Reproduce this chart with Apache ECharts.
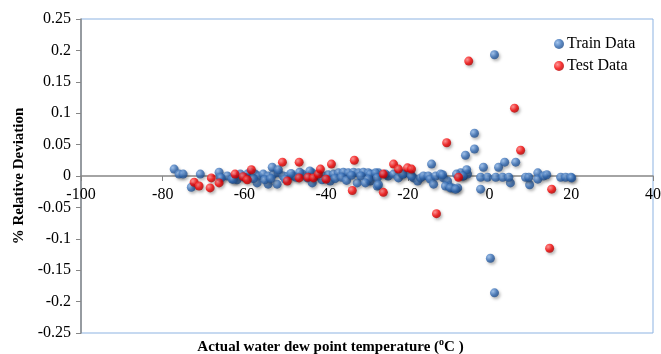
<!DOCTYPE html>
<html>
<head>
<meta charset="utf-8">
<script src="https://cdn.jsdelivr.net/npm/echarts@6/dist/echarts.min.js"></script>
<style>
html,body{margin:0;padding:0;background:#fff;}
#chart{width:661px;height:354px;}
</style>
</head>
<body>
<div id="chart"></div>
<script>
// Train data (blue)
const trainX = [-77.2,-76.0,-75.0,-73.0,-70.8,-66.2,-65.9,-64.2,-63.0,-61.8,-61.0,-58.6,-59.3,-57.4,-56.6,-55.4,-54.2,-52.9,-51.7,-50.5,-49.3,-48.0,-56.9,-54.2,-52.0,-53.2,-51.7,-47.3,-45.8,-44.6,-43.4,-42.2,-43.4,-40.7,-39.5,-38.2,-37.0,-35.8,-34.6,-33.3,-32.1,-30.9,-29.7,-28.4,-27.2,-24.8,-32.4,-29.2,-27.5,
 -60.0,-57.8,-55.0,-53.5,-50.0,-48.6,-46.5,-44.0,-41.0,-39.0,-37.8,-36.2,-35.0,-33.8,-31.5,
 -29.2,-27.9,-27.5,-29.7,-30.4,-27.2,-25.5,-23.5,-22.3,-21.1,-19.4,-18.6,-17.6,-16.9,-16.2,-15.0,-14.5,-13.7,-13.2,-12.0,-11.3,-10.3,-10.0,-9.1,-7.8,-7.1,-6.4,-5.4,-14.2,-5.9,
 1.2,-3.7,-3.7,-1.5,2.2,3.7,6.4,-5.6,-2.2,0.2,1.2,5.1,9.8,-2.2,-0.5,1.5,3.2,4.7,8.8,9.6,11.8,11.8,13.2,14.0,17.4,18.6,19.9,20.1,-8.1,-6.6,-10.8,-9.6,-8.3,-11.5,-21.3,-19.1,-65.7,-62.7];
const trainY = [0.011,0.003,0.003,-0.018,0.003,0.006,-0.002,0,-0.005,-0.006,0.003,0.006,0.003,0.003,0,0.003,0,0.003,0.005,0,0,0,-0.011,-0.013,-0.013,0.014,0.010,-0.002,0.003,-0.003,0.005,0,-0.011,0,0.002,0.003,0.005,0.006,0.005,0.006,0.005,0.006,0.005,0.003,0.005,0,-0.011,-0.008,-0.016,
 -0.002,-0.004,-0.006,-0.004,-0.005,0.004,0.006,0.008,-0.006,-0.008,-0.004,-0.002,-0.007,0.001,0,
 0.003,0.005,-0.003,-0.005,-0.011,-0.014,0.003,0.003,-0.003,0.003,0.003,-0.003,-0.008,-0.003,0,0,-0.005,-0.013,0,0.003,-0.003,-0.008,-0.016,-0.019,-0.019,0.005,0,0.003,0.019,0.033,
 0.193,0.068,0.043,0.014,0.014,0.022,0.022,0.010,-0.021,-0.131,-0.186,-0.011,-0.014,-0.002,-0.002,-0.002,-0.002,-0.002,-0.002,-0.002,0.005,-0.005,0,0.002,-0.002,-0.002,-0.002,-0.003,0.003,0,-0.016,-0.019,-0.021,0.002,0.003,0,-0.003,-0.005];
// Test data (red)
const testX = [-72.3,-71.1,-68.1,-68.4,-66.2,-62.3,-60.3,-59.3,-58.3,-50.7,-46.6,-38.7,-33.1,-49.5,-46.6,-44.4,-43.1,-41.9,-41.4,-40.0,-33.6,-26.0,-26.0,-23.5,-22.3,-20.1,-19.1,-7.6,-5.1,6.1,7.6,-10.5,-13.0,14.7,15.2];
const testY = [-0.010,-0.016,-0.003,-0.019,-0.011,0.003,-0.001,-0.006,0.010,0.022,0.022,0.019,0.025,-0.008,-0.003,-0.002,-0.003,0.003,0.011,-0.005,-0.023,0.003,-0.026,0.019,0.011,0.013,0.011,-0.002,0.183,0.108,0.041,0.053,-0.060,-0.115,-0.021];

const xTicks = {min:-100, max:40, interval:20};
const yTicks = {min:-0.25, max:0.25, interval:0.05};

const zip = (a,b)=>a.map((v,i)=>[v,b[i]]);
const font = '"Liberation Serif","Times New Roman",serif';
const sphere = (hi, mid, lo)=>({type:'radial',x:0.35,y:0.35,r:0.75,colorStops:[{offset:0,color:hi},{offset:0.55,color:mid},{offset:1,color:lo}]});

const gridTop = 19, gridBottom = 21, H = 354;
const plotH = H - gridTop - gridBottom;
// distance from the bottom edge of the plot to the zero line
const zeroOffset = plotH * (0 - yTicks.min) / (yTicks.max - yTicks.min);

const chart = echarts.init(document.getElementById('chart'));
chart.setOption({
  animation:false,
  backgroundColor:'#fff',
  grid:{left:81,right:8,top:gridTop,bottom:gridBottom,show:true,borderColor:'#8DB3E2',borderWidth:1,containLabel:false,outerBoundsMode:'none'},
  title:{
    text:'{t|Actual water dew point temperature (}{s|o}{t|C )}',
    left:'center', top:337, padding:0,
    textStyle:{rich:{
      t:{fontFamily:font,fontWeight:'bold',fontSize:15,color:'#000',verticalAlign:'bottom',lineHeight:18},
      s:{fontFamily:font,fontWeight:'bold',fontSize:10,color:'#000',verticalAlign:'top',lineHeight:18,padding:[0,0,6,0]}
    }}
  },
  legend:{
    orient:'vertical', left:549, top:31, itemGap:6, itemWidth:10, itemHeight:10,
    textStyle:{fontFamily:font,fontSize:16,color:'#000',padding:[0,0,0,-2]},
    data:[{name:'Train Data',icon:'circle'},{name:'Test Data',icon:'circle'}]
  },
  xAxis:{
    type:'value', min:xTicks.min, max:xTicks.max, interval:xTicks.interval,
    position:'bottom', offset:-zeroOffset,
    axisLine:{onZero:false,lineStyle:{color:'#868686',width:1.5}},
    axisTick:{show:true,inside:false,length:5,lineStyle:{color:'#868686'}},
    axisLabel:{color:'#000',fontFamily:font,fontSize:16,margin:11},
    splitLine:{show:false}
  },
  yAxis:{
    type:'value', min:yTicks.min, max:yTicks.max, interval:yTicks.interval,
    position:'left',
    name:'% Relative Deviation', nameLocation:'middle', nameGap:54, nameRotate:90,
    nameTextStyle:{fontFamily:font,fontSize:15,fontWeight:'bold',color:'#000'},
    axisLine:{show:true,onZero:false,lineStyle:{color:'#868686',width:1.5}},
    axisTick:{show:true,inside:false,length:5,lineStyle:{color:'#868686'}},
    axisLabel:{color:'#000',fontFamily:font,fontSize:16,margin:10,formatter:v=>String(+v.toFixed(2))},
    splitLine:{show:false}
  },
  series:[
    {name:'Train Data',type:'scatter',data:zip(trainX,trainY),symbolSize:9,
     itemStyle:{color:sphere('#8FB8EA','#3169B2','#1A4580'),shadowColor:'rgba(0,0,0,0.35)',shadowBlur:3,shadowOffsetX:1.5,shadowOffsetY:2}},
    {name:'Test Data',type:'scatter',data:zip(testX,testY),symbolSize:9,
     itemStyle:{color:sphere('#FF8080','#F50000','#A00000'),shadowColor:'rgba(0,0,0,0.35)',shadowBlur:3,shadowOffsetX:1.5,shadowOffsetY:2}}
  ]
});
</script>
</body>
</html>
